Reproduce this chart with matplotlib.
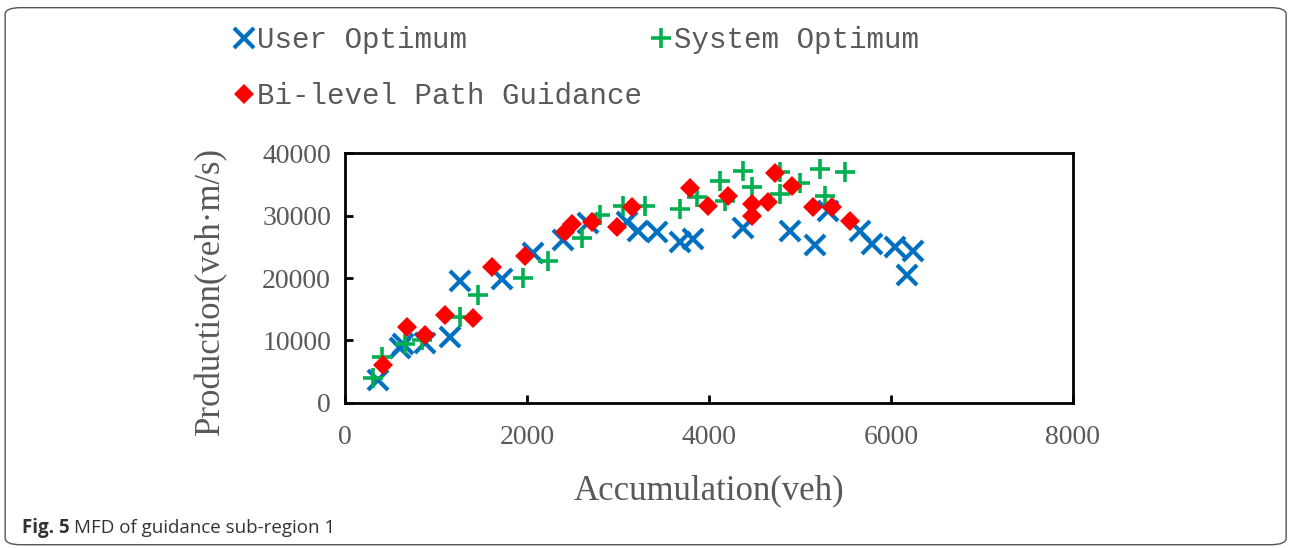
import matplotlib.pyplot as plt
from matplotlib.lines import Line2D
from matplotlib.patches import FancyBboxPatch

# values (Accumulation veh, Production veh*m/s)
uo_x = [363, 604, 640, 879, 1154, 1264, 1725, 2066, 2396, 2670, 3099, 3220,
        3429, 3681, 3824, 4370, 4890, 5165, 5308, 5659, 5791, 6044, 6242, 6176]
uo_y = [3700, 8800, 9400, 9600, 10600, 19500, 19800, 24000, 26100, 28800, 28900, 27500,
        27300, 25700, 26300, 28000, 27600, 25300, 30700, 27500, 25400, 25000, 24400, 20500]

so_x = [311, 403, 660, 843, 1264, 1462, 1956, 2231, 2604, 2802, 3055, 3297,
        3681, 3868, 4121, 4176, 4374, 4473, 4780, 4780, 5000, 5220, 5275, 5495]
so_y = [4000, 7300, 9500, 10000, 13800, 17300, 20000, 22800, 26400, 30100, 31600, 31500,
        31100, 32900, 35500, 32400, 37100, 34500, 36900, 33400, 35200, 37500, 33100, 36900]

bl_x = [418, 681, 879, 1099, 1407, 1615, 1978, 2418, 2495, 2714, 2989, 3154,
        3791, 3989, 4209, 4473, 4473, 4648, 4725, 4912, 5143, 5352, 5549]
bl_y = [6100, 12200, 10900, 14100, 13600, 21800, 23600, 27400, 28600, 28900, 28100, 31300,
        34400, 31500, 33200, 31800, 29900, 32100, 36800, 34700, 31300, 31300, 29100]

x_ticks = [0, 2000, 4000, 6000, 8000]
y_ticks = [0, 10000, 20000, 30000, 40000]

BLUE = "#0070C0"
GREEN = "#00B050"
RED = "#FF0000"
GREY = "#595959"

fig = plt.figure(figsize=(12.9, 5.48), dpi=100)
ax = fig.add_axes([0.2674, 0.2646, 0.5643, 0.4562])

ax.plot(uo_x, uo_y, "x", color=BLUE, ms=14, mew=3, ls="none")
ax.plot(so_x, so_y, "+", color=GREEN, ms=14, mew=2.6, ls="none")
ax.plot(bl_x, bl_y, "D", color=RED, ms=10.5, mew=0, ls="none")

ax.set_xlim(0, 8000)
ax.set_ylim(0, 40000)
ax.set_xticks(x_ticks)
ax.set_yticks(y_ticks)

serif = "Liberation Serif"
for sp in ax.spines.values():
    sp.set_linewidth(2)
    sp.set_color("black")
ax.tick_params(direction="in", length=6, width=2, colors="black", labelcolor=GREY)
ax.tick_params(axis="x", pad=16)
ax.tick_params(axis="y", pad=10)
for lab in ax.get_xticklabels() + ax.get_yticklabels():
    lab.set_fontfamily(serif)
    lab.set_fontsize(20)

ax.set_xlabel("Accumulation(veh)", fontfamily=serif, fontsize=25, color=GREY, labelpad=17)
ax.set_ylabel("Production(veh·m/s)", fontfamily=serif, fontsize=25, color=GREY)
ax.yaxis.set_label_coords(-0.162, 0.45)

# legend: order so that ncol=2 fills rows as in the reference
h_uo = Line2D([], [], marker="x", color=BLUE, ms=14, mew=3, ls="none")
h_so = Line2D([], [], marker="+", color=GREEN, ms=14, mew=2.6, ls="none")
h_bl = Line2D([], [], marker="D", color=RED, ms=10.5, mew=0, ls="none")
leg = fig.legend([h_uo, h_bl, h_so],
                 ["User Optimum", "Bi-level Path Guidance", "System Optimum"],
                 loc="upper left", bbox_to_anchor=(0.162, 1.0), ncol=2,
                 frameon=False, handlelength=0.6, handletextpad=0.15,
                 columnspacing=0.36, labelspacing=0.95,
                 prop={"family": "Liberation Mono", "size": 21})
for t in leg.get_texts():
    t.set_color(GREY)

# rounded frame round the whole figure
frame = FancyBboxPatch((0.004, 0.006), 0.993, 0.98, transform=fig.transFigure,
                       boxstyle="round,pad=0,rounding_size=0.012",
                       fill=False, edgecolor="#555555", linewidth=1.0)
fig.patches.append(frame)

# caption
cap1 = fig.text(0.017, 0.027, "Fig. 5", fontfamily="Open Sans", fontweight="bold",
                fontsize=13.5, color="#333333", va="baseline")
fig.canvas.draw()
bb = cap1.get_window_extent(fig.canvas.get_renderer())
fig.text(bb.x1 / fig.bbox.width + 0.003, 0.027, "MFD of guidance sub-region 1",
         fontfamily="Open Sans", fontsize=13.5, color="#333333", va="baseline")

fig.savefig("out.png", dpi=100)
